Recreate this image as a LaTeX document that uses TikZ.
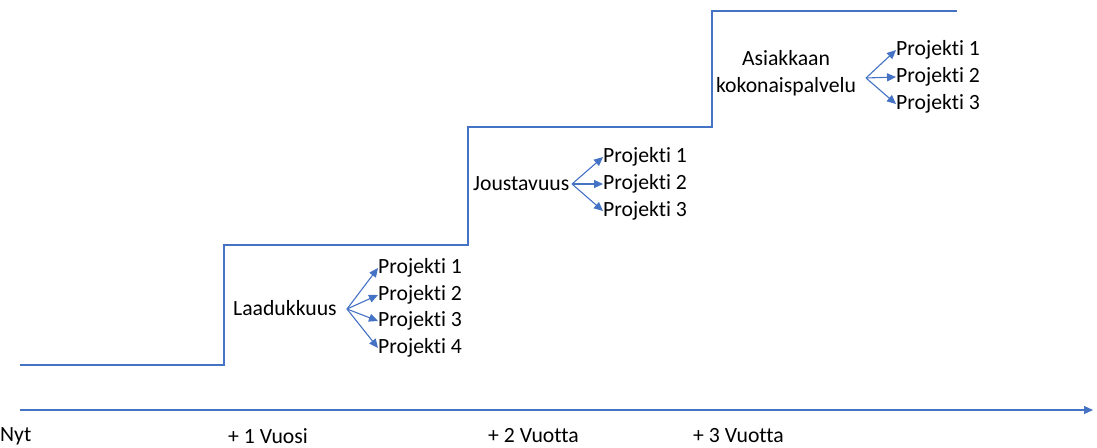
\documentclass[tikz,border=0pt]{standalone}
\usepackage{fontspec}
\setmainfont[Ligatures=NoCommon,RawFeature=-liga]{Carlito}
\usetikzlibrary{arrows.meta}
\definecolor{ofblue}{HTML}{4472C4}
\begin{document}
\begin{tikzpicture}[x=1pt,y=-1pt,
  lbl/.style={font=\fontsize{21.7}{27}\selectfont, inner sep=0pt},
  proj/.style={lbl, anchor=west},
  line/.style={draw=ofblue, line width=1.1pt},
  arr/.style={draw=ofblue, line width=1.1pt, -{Triangle[length=9pt,width=8pt]}}]
\useasboundingbox (0,0) rectangle (1097,447);
% steps
\coordinate (s0) at (20,365);
\coordinate (s1) at (224,365);
\coordinate (s2) at (224,245);
\coordinate (s3) at (468,245);
\coordinate (s4) at (468,127);
\coordinate (s5) at (712,127);
\coordinate (s6) at (712,11);
\coordinate (s7) at (957,11);
\draw[line] (s0) -- (s1) -- (s2) -- (s3) -- (s4) -- (s5) -- (s6) -- (s7);
% axis
\coordinate (a0) at (20,410);
\coordinate (a1) at (1093,410);
\draw[arr] (a0) -- (a1);
\node[lbl, anchor=west] (nyt) at (0,436) {Nyt};
\node[lbl, anchor=west] (v1) at (228,436) {+ 1 Vuosi};
\node[lbl, anchor=west] (v2) at (488,436) {+ 2 Vuotta};
\node[lbl, anchor=west] (v3) at (693,436) {+ 3 Vuotta};
% group 1
\node[lbl, anchor=west] (laa) at (233,308) {Laadukkuus};
\coordinate (o1) at (347,309);
\node[proj] (p11) at (378,268) {Projekti 1};
\node[proj] (p12) at (378,295) {Projekti 2};
\node[proj] (p13) at (378,321) {Projekti 3};
\node[proj] (p14) at (378,348) {Projekti 4};
\foreach \p in {p11,p12,p13,p14} \draw[arr] (o1) -- (\p.west);
% group 2
\node[lbl, anchor=west] (jou) at (473,184) {Joustavuus};
\coordinate (o2) at (572,184);
\node[proj] (p21) at (603,157) {Projekti 1};
\node[proj] (p22) at (603,184) {Projekti 2};
\node[proj] (p23) at (603,211) {Projekti 3};
\foreach \p in {p21,p22,p23} \draw[arr] (o2) -- (\p.west);
% group 3
\node[lbl, align=center] (asi) at (786,73) {Asiakkaan\\kokonaispalvelu};
\coordinate (o3) at (866,78);
\node[proj] (p31) at (896,50) {Projekti 1};
\node[proj] (p32) at (896,77) {Projekti 2};
\node[proj] (p33) at (896,104) {Projekti 3};
\foreach \p in {p31,p32,p33} \draw[arr] (o3) -- (\p.west);
\end{tikzpicture}
\end{document}
